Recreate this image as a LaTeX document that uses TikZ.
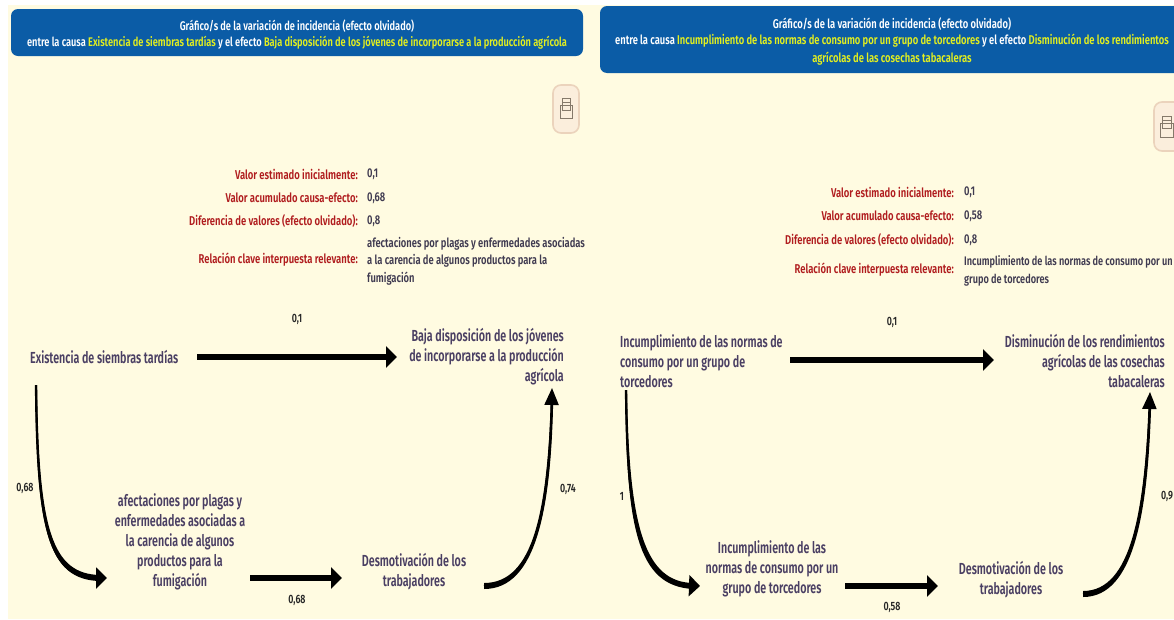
\documentclass[tikz,border=0pt]{standalone}
\usepackage{fontspec}
\setmainfont{Fira Sans}[FakeStretch=0.74,BoldFont={Fira Sans SemiBold},BoldFeatures={FakeStretch=0.74}]
\newfontfamily\nodefont{Fira Sans SemiBold}[FakeStretch=0.67]
\usetikzlibrary{arrows.meta}
\definecolor{cream}{HTML}{FFFBE1}
\definecolor{hdr}{HTML}{0B5CA6}
\definecolor{ylw}{HTML}{E4F01E}
\definecolor{txt}{HTML}{4A3F63}
\definecolor{redl}{HTML}{B01C1E}
\definecolor{graytxt}{HTML}{3F3A50}
\definecolor{btnfill}{HTML}{FBEEDC}
\definecolor{btnline}{HTML}{EBD3BC}
\definecolor{icoline}{HTML}{85796A}
\tikzset{
 x=1pt,y=-1pt,
 panel/.style={fill=cream,draw=none},
 header/.style={fill=hdr,draw=none,rounded corners=7pt},
 hline/.style={text=white,font=\fontsize{12.5}{14}\selectfont\bfseries,inner sep=0,anchor=center},
 hliner/.style={text=white,font=\fontsize{12.7}{14}\selectfont\bfseries,inner sep=0,anchor=center},
 lab/.style={text=redl,font=\fontsize{12.8}{14}\selectfont\bfseries,inner sep=0,anchor=east},
 val/.style={text=graytxt,font=\fontsize{12.7}{17.5}\selectfont\bfseries,inner sep=0,anchor=west,align=left},
 nodetxt/.style={text=txt,font=\fontsize{16}{20}\selectfont\nodefont,inner sep=0},
 num/.style={text=black!85,font=\fontsize{12}{14}\selectfont\bfseries,inner sep=0,anchor=center},
 straight/.style={line width=6pt,-{Triangle[length=11pt,width=21pt]},black},
 bent/.style={line width=2.2pt,-{Triangle[length=11pt,width=21pt]},black},
 bentup/.style={line width=2.2pt,-{Triangle[length=17pt,width=14pt]},black},
 btn/.style={fill=btnfill,draw=btnline,line width=1.6pt,rounded corners=8pt},
 ico/.style={draw=icoline,line width=.9pt,fill=none},
}
\newcommand{\yy}[1]{\textcolor{ylw}{#1}}
\begin{document}
\begin{tikzpicture}
\useasboundingbox (0,0) rectangle (1174,619);
\fill[white] (0,0) rectangle (1174,619);
\fill[panel] (8,5) rectangle (1174,619);
% ---------- left panel ----------
\fill[header] (11,9) rectangle (583,56);
\node[hline] (h1) at (297,26) {Gráfico/s de la variación de incidencia (efecto olvidado)};
\node[hline] (h2) at (297,43) {entre la causa \yy{Existencia de siembras tardías} y el efecto \yy{Baja disposición de los jóvenes de incorporarse a la producción agrícola}};
\path[btn] (553,85) rectangle (579,133);
\draw[ico] (560,105) rectangle (572,118);
\draw[ico] (562,98) rectangle (570,110);
\draw[ico] (562,102) -- (570,102);
\node[lab] (l1) at (358,174) {Valor estimado inicialmente:};
\node[lab] (l2) at (358,198) {Valor acumulado causa-efecto:};
\node[lab] (l3) at (358,221) {Diferencia de valores (efecto olvidado):};
\node[lab] (l4) at (358,260) {Relación clave interpuesta relevante:};
\node[val] (v1) at (367,174) {0,1};
\node[val] (v2) at (367,198) {0,68};
\node[val] (v3) at (367,221) {0,8};
\node[val] (v4) at (367,261) {afectaciones por plagas y enfermedades asociadas\\a la carencia de algunos productos para la\\fumigación};
\node[nodetxt,anchor=west,align=left] (a) at (30,357) {Existencia de siembras tardías};
\node[nodetxt,anchor=east,align=right] (b) at (564,357) {Baja disposición de los jóvenes\\de incorporarse a la producción\\agrícola};
\node[nodetxt,align=center] (c) at (180,542) {afectaciones por plagas y\\enfermedades asociadas a\\la carencia de algunos\\productos para la\\fumigación};
\node[nodetxt,align=center] (d) at (414,572) {Desmotivación de los\\trabajadores};
\draw[straight] ([xshift=167pt]a.west) -- ([xshift=-167pt]b.east);
\fill[black] (35.4,385) .. controls (36,530) and (48,580) .. (100,581) -- (100,575) .. controls (52,574) and (38.5,530) .. (37.2,385) -- cycle;
\draw[bent] ([shift={(6,28)}]a.west) .. controls (37,530) and (50,578) .. ([shift={(-73,36)}]c.center);
\draw[straight] ([shift={(70,36)}]c.center) -- ([shift={(-72,6)}]d.center);
\fill[black] (484,583) .. controls (534,583) and (547,510) .. (551,400) -- (553.2,400) .. controls (551,510) and (536,589) .. (484,589) -- cycle;
\draw[bentup] ([shift={(70,14)}]d.center) .. controls (535,586) and (549,510) .. ([shift={(-12,31)}]b.east);
\node[num] (n1) at (297,319) {0,1};
\node[num] (n2) at (25,488) {0,68};
\node[num] (n3) at (297,600) {0,68};
\node[num] (n4) at (568,489) {0,74};
% ---------- right panel ----------
\fill[header] (600,6) rectangle (1190,73);
\node[hliner] (h3) at (892,24) {Gráfico/s de la variación de incidencia (efecto olvidado)};
\node[hliner] (h4) at (892,41) {entre la causa \yy{Incumplimiento de las normas de consumo por un grupo de torcedores} y el efecto \yy{Disminución de los rendimientos}};
\node[hliner] (h5) at (892,59) {\yy{agrícolas de las cosechas tabacaleras}};
\path[btn] (1154,102) rectangle (1190,151);
\draw[ico] (1160,123) rectangle (1173,137);
\draw[ico] (1162,116) rectangle (1171,128);
\draw[ico] (1162,120) -- (1171,120);
\node[lab] (r1) at (954,192) {Valor estimado inicialmente:};
\node[lab] (r2) at (954,216) {Valor acumulado causa-efecto:};
\node[lab] (r3) at (954,240) {Diferencia de valores (efecto olvidado):};
\node[lab] (r4) at (954,270) {Relación clave interpuesta relevante:};
\node[val] (w1) at (964,192) {0,1};
\node[val] (w2) at (964,216) {0,58};
\node[val] (w3) at (964,240) {0,8};
\node[val,font=\fontsize{12.4}{17.5}\selectfont\bfseries] (w4) at (964,271) {Incumplimiento de las normas de consumo por un\\grupo de torcedores};
\node[nodetxt,anchor=west,align=left] (e) at (620,361) {Incumplimiento de las normas de\\consumo por un grupo de\\torcedores};
\node[nodetxt,anchor=east,align=right] (f) at (1165,361) {Disminución de los rendimientos\\agrícolas de las cosechas\\tabacaleras};
\node[nodetxt,align=center] (g) at (772,569) {Incumplimiento de las\\normas de consumo por un\\grupo de torcedores};
\node[nodetxt,align=center] (k) at (1011,580) {Desmotivación de los\\trabajadores};
\draw[straight] ([shift={(170,-1)}]e.west) -- ([shift={(-171,-1)}]f.east);
\fill[black] (625.4,390) .. controls (626,530) and (638,586) .. (693,589) -- (693,583) .. controls (646,582) and (628.5,530) .. (627.2,390) -- cycle;
\draw[bent] ([shift={(6,29)}]e.west) .. controls (627,530) and (642,584) .. ([shift={(-72,17)}]g.center);
\draw[straight] ([shift={(73,17)}]g.center) -- ([shift={(-73,6)}]k.center);
\fill[black] (1083,591) .. controls (1132,591) and (1144,510) .. (1149,404) -- (1151.2,404) .. controls (1148,510) and (1135,597) .. (1083,597) -- cycle;
\draw[bentup] ([shift={(72,14)}]k.center) .. controls (1133,594) and (1146,510) .. ([shift={(-15,31)}]f.east);
\node[num] (m1) at (892,322) {0,1};
\node[num] (m2) at (622,496) {1};
\node[num] (m3) at (892,607) {0,58};
\node[num] (m4) at (1167,496) {0,9};
\end{tikzpicture}
\end{document}
